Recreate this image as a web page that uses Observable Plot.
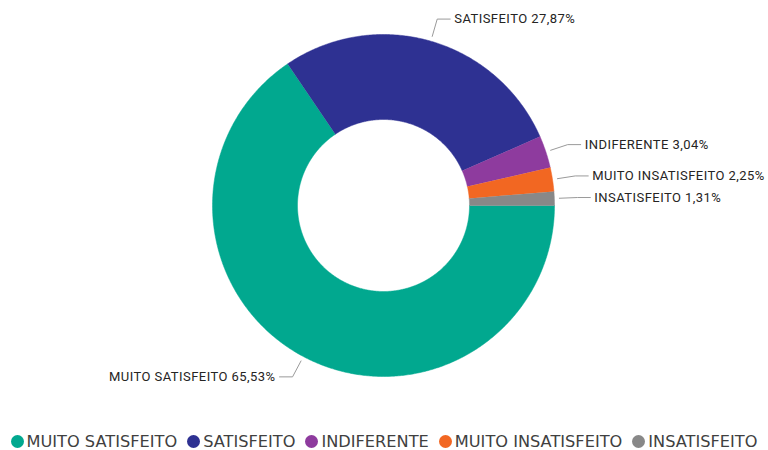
<!DOCTYPE html>
<html><head><meta charset="utf-8">
<script src="https://cdn.jsdelivr.net/npm/d3@7"></script>
<script src="https://cdn.jsdelivr.net/npm/@observablehq/plot@0.6"></script>
<style>
body{margin:0;background:#fff;}
#chart svg{display:block;}
#chart g[aria-label="text"]{letter-spacing:0.45px;}
#legend{display:flex;justify-content:center;align-items:center;gap:10px;font-family:"DejaVu Sans",sans-serif;font-size:16.2px;color:#404040;height:40px;margin-top:11px;white-space:nowrap;}
#legend .item{display:flex;align-items:center;gap:3px;}
#legend .dot{width:13px;height:13px;border-radius:50%;display:inline-block;}
</style>
</head><body>
<div id="chart"></div>
<div id="legend"></div>
<script>
const categories = ["MUITO SATISFEITO", "SATISFEITO", "INDIFERENTE", "MUITO INSATISFEITO", "INSATISFEITO"];
const values = [65.53, 27.87, 3.04, 2.25, 1.31];
const colors = ["#01A88F", "#2E3192", "#8E3B9E", "#F26722", "#888888"];

const W = 768, H = 410, CX = 383, CY = 205, R = 171;
const innerRatio = 86 / 171;
const total = d3.sum(values);
let acc = Math.PI / 2;
const slices = categories.map((c, i) => {
  const a0 = acc, a1 = acc + values[i] / total * 2 * Math.PI;
  acc = a1;
  return {key: c, value: values[i], a0, a1, mid: (a0 + a1) / 2};
});
const pt = (a, r) => [r * Math.sin(a), r * Math.cos(a)];

const polys = [];
for (const s of slices) {
  const n = Math.max(2, Math.ceil((s.a1 - s.a0) / (Math.PI / 360)));
  for (let k = 0; k <= n; k++) {
    const a = s.a0 + (s.a1 - s.a0) * k / n;
    const [x, y] = pt(a, 1);
    polys.push({key: s.key, x, y});
  }
  for (let k = n; k >= 0; k--) {
    const a = s.a0 + (s.a1 - s.a0) * k / n;
    const [x, y] = pt(a, innerRatio);
    polys.push({key: s.key, x, y});
  }
}

const fmt = v => v.toFixed(2).replace(".", ",") + "%";
const leaders = [];
const labels = [];
for (const s of slices) {
  const [x0, y0] = pt(s.mid, 1 + 5 / R);
  const [x1, y1] = pt(s.mid, 1 + 23 / R);
  const right = Math.sin(s.mid) >= 0;
  const x2 = x1 + (right ? 13 : -13) / R;
  leaders.push({key: s.key, x: x0, y: y0}, {key: s.key, x: x1, y: y1}, {key: s.key, x: x2, y: y1});
  labels.push({x: x2, y: y1, right, text: s.key + " " + fmt(s.value)});
}

const chart = Plot.plot({
  width: W, height: H, margin: 0,
  x: {domain: [-CX / R, (W - CX) / R], range: [0, W], axis: null},
  y: {domain: [-(H - CY) / R, CY / R], range: [H, 0], axis: null},
  color: {domain: categories, range: colors},
  style: {background: "#fff"},
  marks: [
    Plot.line(polys, {x: "x", y: "y", z: "key", fill: "key", stroke: "key", strokeWidth: 0.5, curve: "linear"}),
    Plot.line(leaders, {x: "x", y: "y", z: "key", stroke: "#9a9a9a", strokeWidth: 1}),
    Plot.text(labels.filter(d => d.right), {x: "x", y: "y", text: "text", textAnchor: "start", dx: 4, fontSize: 13, fontFamily: "Roboto", fill: "#252423"}),
    Plot.text(labels.filter(d => !d.right), {x: "x", y: "y", text: "text", textAnchor: "end", dx: -4, fontSize: 13, fontFamily: "Roboto", fill: "#252423"})
  ]
});
document.getElementById("chart").appendChild(chart);

const legend = document.getElementById("legend");
categories.forEach((c, i) => {
  const item = document.createElement("span");
  item.className = "item";
  const dot = document.createElement("span");
  dot.className = "dot";
  dot.style.background = colors[i];
  const t = document.createElement("span");
  t.textContent = c;
  item.appendChild(dot); item.appendChild(t);
  legend.appendChild(item);
});
</script>
</body></html>
